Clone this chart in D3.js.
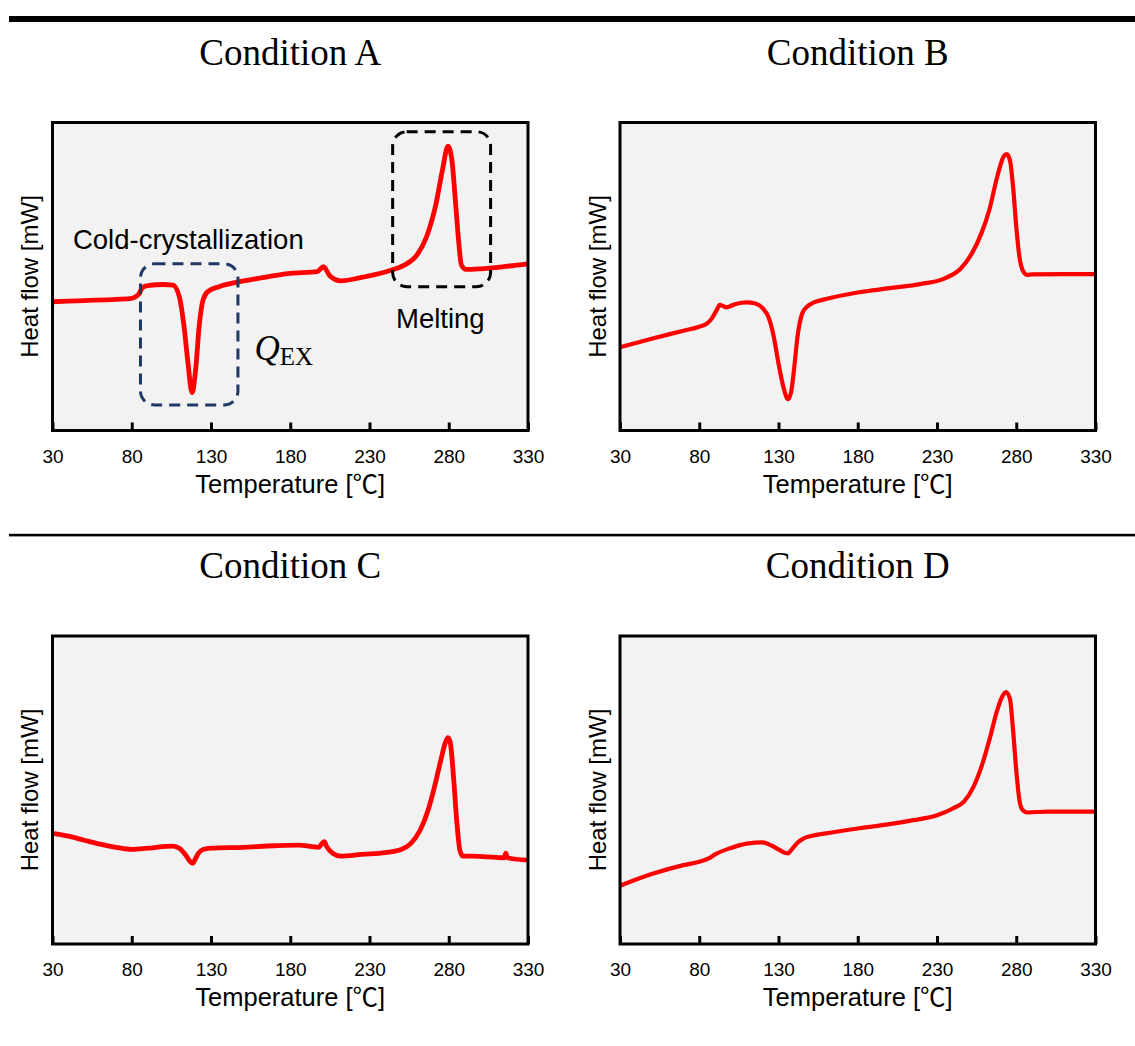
<!DOCTYPE html>
<html>
<head>
<meta charset="utf-8">
<script src="https://cdn.jsdelivr.net/npm/d3@7"></script>
<style>
  html, body { margin: 0; padding: 0; background: #ffffff; }
  svg { display: block; }
</style>
</head>
<body>
<svg id="chart" width="1135" height="1046"></svg>
<script>
// DSC heating curves: temperature [°C] vs. heat flow (arbitrary units, no y ticks)
const tempTicks = [30, 80, 130, 180, 230, 280, 330];
const panelTitles = ["Condition A", "Condition B", "Condition C", "Condition D"];

const conditionA = [
  [30, 41.8], [50, 42.2], [70, 42.6], [80, 42.9], [84, 44.0], [87, 46.5], [90, 47.0],
  [100, 47.4], [106, 47.2], [110, 43.5], [113, 33.7], [115.5, 21.8], [118, 12.3],
  [120.5, 20.8], [122.5, 33.7], [125, 42.4], [128, 45.1], [135, 46.7], [146, 48.1],
  [160, 49.4], [180, 51.0], [197, 51.6], [201, 53.2], [205, 50.2], [212, 48.6],
  [225, 49.7], [244, 52.1], [252, 53.7], [260, 57.0], [266, 62.9], [272, 73.7],
  [276, 84.5], [279.5, 92.3], [282, 87.8], [284, 75.9], [286, 62.9], [288, 53.7],
  [291, 52.3], [300, 52.5], [315, 53.2], [330, 54.1]
];

const conditionB = [
  [30, 27.0], [50, 29.8], [70, 32.4], [80, 33.7], [85, 34.8], [88, 36.4], [91, 39.1],
  [93, 40.8], [95, 40.4], [97, 40.0], [103, 41.1], [110, 41.6], [115, 41.3], [120, 39.7],
  [124, 36.4], [127, 30.5], [130, 21.8], [133, 14.3], [136, 10.2], [138, 12.6],
  [140, 20.8], [142, 30.5], [145, 38.1], [148, 40.2], [152, 41.5], [160, 42.7],
  [180, 44.8], [200, 46.2], [220, 47.6], [235, 49.4], [245, 52.6], [252, 57.5],
  [258, 64.0], [263, 71.6], [268, 82.4], [272, 88.9], [274, 89.7], [276, 87.8],
  [278, 79.1], [280, 66.2], [282, 56.4], [284, 52.1], [287, 50.5], [290, 50.7],
  [310, 50.8], [330, 50.8]
];

const conditionC = [
  [30, 35.9], [40, 35.0], [50, 33.7], [60, 32.4], [70, 31.4], [80, 30.7], [90, 31.1],
  [100, 31.6], [106, 31.8], [110, 31.1], [114, 28.9], [117, 26.7], [118.5, 26.2],
  [120, 27.5], [122, 29.4], [125, 30.7], [130, 31.1], [150, 31.4], [170, 31.9],
  [185, 32.1], [198, 31.4], [200, 32.6], [201.5, 33.2], [203, 31.6], [207, 29.4],
  [212, 28.5], [225, 29.1], [240, 29.7], [250, 30.7], [256, 32.6], [262, 37.0],
  [267, 43.5], [271, 51.0], [275, 59.7], [278, 65.6], [279.5, 67.0], [281, 65.3],
  [283, 54.3], [285, 40.2], [287, 30.5], [289, 28.5], [295, 28.5], [310, 28.1],
  [315, 28.0], [316, 29.5], [317, 28.0], [330, 27.2]
];

const conditionD = [
  [30, 18.9], [50, 22.7], [70, 25.6], [80, 26.7], [86, 27.8], [90, 29.1], [100, 31.2],
  [110, 32.6], [120, 33.0], [125, 32.1], [130, 30.7], [134, 29.6], [136, 29.4],
  [138, 30.5], [142, 32.9], [146, 34.3], [150, 35.0], [160, 35.9], [180, 37.5],
  [200, 38.9], [215, 40.2], [230, 41.8], [240, 44.0], [247, 46.2], [253, 51.0],
  [258, 57.5], [263, 66.2], [268, 75.9], [271, 80.2], [273.5, 81.8], [276, 79.7],
  [278, 69.4], [280, 56.4], [282, 46.7], [284, 43.5], [287, 42.7], [300, 43.0],
  [330, 43.0]
];

const series = [conditionA, conditionB, conditionC, conditionD];

// ---- layout ----
const W = 1135;
const plotW = 475.5, plotH = 308;
const colX = [52.5, 620];
const rowY = [122.5, 636];
const sansFont = "'Liberation Sans', Arial, 'Noto Sans CJK JP', sans-serif";
const serifFont = "'Liberation Serif', 'Times New Roman', serif";

const svg = d3.select("#chart");

// heavy rule at top and thin separator between rows
svg.append("rect").attr("x", 9).attr("y", 16).attr("width", W - 9).attr("height", 6).attr("fill", "#000");
svg.append("rect").attr("x", 9).attr("y", 533.8).attr("width", W - 9).attr("height", 2.6).attr("fill", "#000");

const x = d3.scaleLinear().domain([30, 330]).range([0, plotW]);
const y = d3.scaleLinear().domain([0, 100]).range([plotH, 0]);

const line = d3.line()
  .x(d => x(d[0]))
  .y(d => y(d[1]))
  .curve(d3.curveMonotoneX);

series.forEach((data, i) => {
  const col = i % 2, row = Math.floor(i / 2);
  const g = svg.append("g").attr("transform", `translate(${colX[col]},${rowY[row]})`);

  // panel title
  g.append("text")
    .attr("x", plotW / 2).attr("y", -58)
    .attr("text-anchor", "middle")
    .style("font-family", serifFont)
    .style("font-size", "37px")
    .attr("fill", "#000")
    .text(panelTitles[i]);

  // plot background
  g.append("rect").attr("width", plotW).attr("height", plotH).attr("fill", "#f2f2f2");

  // curve
  g.append("path")
    .datum(data)
    .attr("fill", "none")
    .attr("stroke", "#ff0000")
    .attr("stroke-width", (i === 0 || i === 2) ? 4.8 : 4.2)
    .attr("stroke-linejoin", "round")
    .attr("d", line);

  // frame
  g.append("rect").attr("width", plotW).attr("height", plotH)
    .attr("fill", "none").attr("stroke", "#000").attr("stroke-width", 3);

  // bottom axis with inward ticks
  const ax = g.append("g")
    .attr("transform", `translate(0,${plotH})`)
    .call(d3.axisBottom(x).tickValues(tempTicks).tickSizeInner(-8).tickSizeOuter(0).tickPadding(19));
  ax.select(".domain").remove();
  ax.selectAll(".tick line").attr("stroke", "#000").attr("stroke-width", 3);
  ax.selectAll(".tick text")
    .style("font-family", sansFont).style("font-size", "19px").attr("fill", "#000");

  // axis titles
  g.append("text")
    .attr("x", plotW / 2).attr("y", plotH + 62)
    .attr("text-anchor", "middle")
    .style("font-family", sansFont).style("font-size", "25.5px")
    .attr("fill", "#000")
    .text("Temperature [℃]");

  g.append("text")
    .attr("transform", `translate(-14.5,${plotH / 2}) rotate(-90)`)
    .attr("text-anchor", "middle")
    .style("font-family", sansFont).style("font-size", "24px")
    .attr("fill", "#000")
    .text("Heat flow [mW]");

  // annotations for Condition A
  if (i === 0) {
    const boxes = [
      { t0: 85.5, t1: 147, v0: 8.3, v1: 54.1, color: "#1f3864" },
      { t0: 244.6, t1: 306.4, v0: 46.7, v1: 97, color: "#000000" }
    ];
    boxes.forEach(b => {
      g.append("rect")
        .attr("x", x(b.t0)).attr("y", y(b.v1))
        .attr("width", x(b.t1) - x(b.t0)).attr("height", y(b.v0) - y(b.v1))
        .attr("rx", 14).attr("ry", 14)
        .attr("fill", "none").attr("stroke", b.color)
        .attr("stroke-width", 3).attr("stroke-dasharray", "11 7");
    });

    g.append("text")
      .attr("x", x(42.9)).attr("y", y(58.9))
      .style("font-family", sansFont).style("font-size", "27.5px").attr("fill", "#000")
      .text("Cold-crystallization");

    g.append("text")
      .attr("x", x(246.7)).attr("y", y(33.3))
      .style("font-family", sansFont).style("font-size", "27.5px").attr("fill", "#000")
      .text("Melting");

    const q = g.append("text")
      .attr("x", x(157.4)).attr("y", y(22.9))
      .attr("fill", "#000");
    q.append("tspan")
      .style("font-family", serifFont).style("font-style", "italic").style("font-size", "35px")
      .text("Q");
    q.append("tspan")
      .attr("dy", 5)
      .style("font-family", serifFont).style("font-size", "25px")
      .text("EX");
  }
});
</script>
</body>
</html>
